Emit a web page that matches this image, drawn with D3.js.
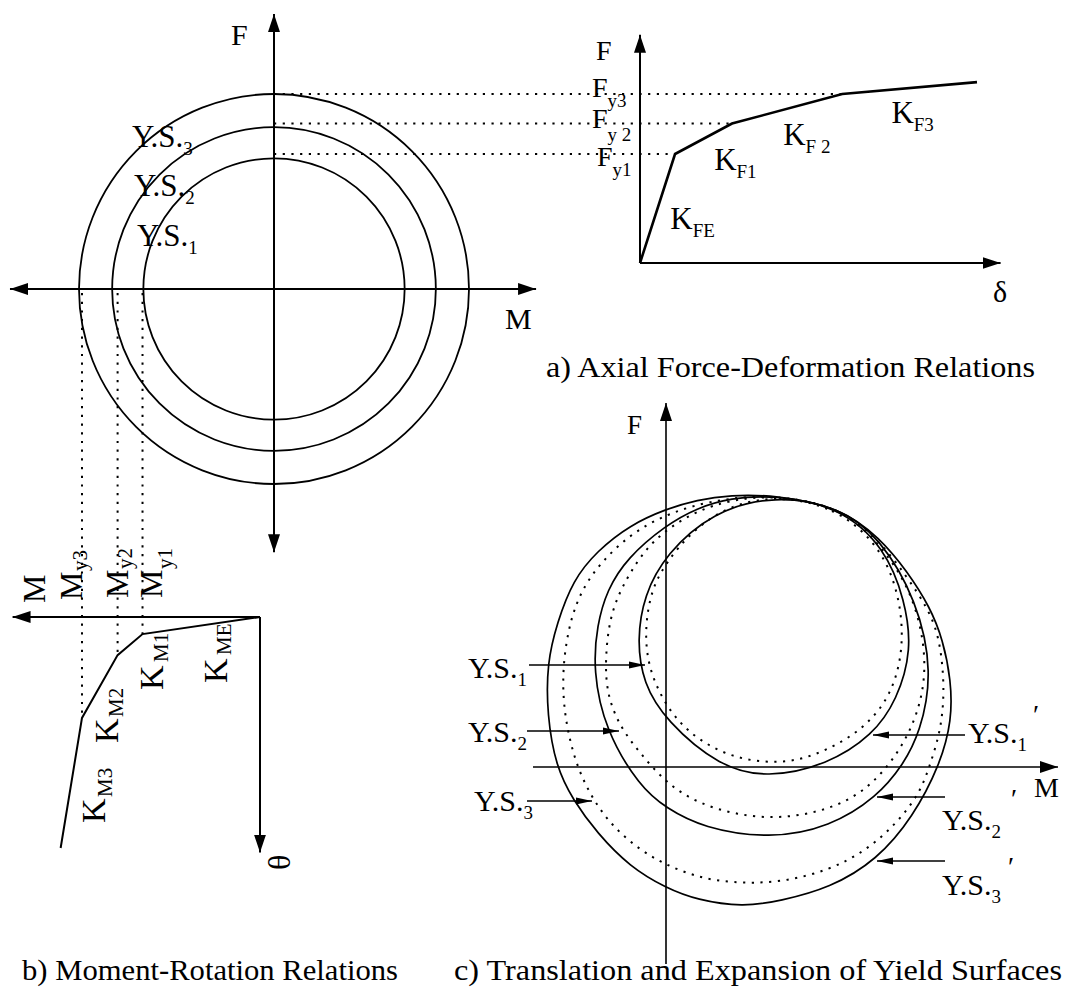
<!DOCTYPE html>
<html>
<head>
<meta charset="utf-8">
<script src="https://cdn.jsdelivr.net/npm/d3@7"></script>
<style>
  body { margin: 0; background: #fff; }
  svg text { font-family: "Liberation Serif", "Times New Roman", serif; fill: #000; }
</style>
</head>
<body>
<svg id="chart" width="1065" height="994"></svg>
<script>
// yield levels, normalised by the third yield level
const yieldRadius = [0.67, 0.83, 1.0]      // Y.S.1 .. Y.S.3 in the F-M plane
const forceYield = [0.645, 0.825, 1.0]     // F_y1 .. F_y3
const momentYield = [0.66, 0.80, 1.0]      // M_y1 .. M_y3

// a) axial force-deformation, [delta, F]
const axialCurve = [[0, 0], [0.104, 0.645], [0.273, 0.825], [0.6, 1.0], [1.0, 1.07]]
const axialLabels = [
  {k: 'K', s: 'FE', d: 0.09, f: 0.2},
  {k: 'K', s: 'F1', d: 0.22, f: 0.55},
  {k: 'K', s: 'F 2', d: 0.425, f: 0.7},
  {k: 'K', s: 'F3', d: 0.746, f: 0.83}
]

// b) moment-rotation, [theta, M]
const momentCurve = [[0, 0], [0.074, 0.66], [0.165, 0.80], [0.437, 1.0], [1.0, 1.12]]

// c) yield surfaces [M, F]; original (dotted) and translated/expanded (solid)
const ysOld1 = [[1.09,2.72],[1.69,2.60],[2.11,2.24],[2.31,1.82],[2.39,1.27],[2.27,0.72],[1.94,0.34],[1.47,0.10],[1.11,0.03],[0.64,0.09],[0.21,0.34],[-0.04,0.67],[-0.19,1.04],[-0.21,1.42],[-0.14,1.79],[0.00,2.04],[0.24,2.34],[0.59,2.60]]
const ysOld2 = [[1.09,2.72],[1.74,2.60],[2.11,2.26],[2.47,1.77],[2.64,1.00],[2.47,0.34],[2.07,-0.20],[1.64,-0.43],[1.14,-0.52],[0.71,-0.48],[0.31,-0.36],[0.00,-0.16],[-0.26,0.14],[-0.46,0.40],[-0.59,0.72],[-0.61,1.07],[-0.56,1.54],[-0.39,1.90],[-0.19,2.20],[0.04,2.40],[0.31,2.56],[0.64,2.67]]
const ysOld3 = [[1.09,2.72],[1.74,2.60],[2.14,2.26],[2.41,1.90],[2.61,1.60],[2.72,1.34],[2.77,1.00],[2.78,0.67],[2.74,0.34],[2.64,0.02],[2.54,-0.26],[2.31,-0.56],[2.01,-0.83],[1.64,-1.03],[1.14,-1.16],[0.64,-1.16],[0.31,-1.10],[0.00,-0.98],[-0.26,-0.83],[-0.53,-0.60],[-0.73,-0.33],[-0.89,0.00],[-0.98,0.34],[-1.03,0.67],[-1.03,1.04],[-0.96,1.47],[-0.83,1.80],[-0.63,2.07],[-0.36,2.32],[-0.09,2.48],[0.24,2.61],[0.64,2.69]]
const ysNew1 = [[1.09,2.72],[1.74,2.60],[2.19,2.19],[2.39,1.67],[2.46,1.17],[2.31,0.67],[2.07,0.32],[1.61,0.02],[1.01,-0.11],[0.54,0.00],[0.00,0.46],[-0.23,0.84],[-0.29,1.27],[-0.22,1.72],[0.00,2.13],[0.46,2.55]]
const ysNew2 = [[1.09,2.72],[1.74,2.60],[2.14,2.29],[2.51,1.67],[2.67,0.94],[2.54,0.34],[2.37,0.02],[2.11,-0.30],[1.64,-0.60],[1.04,-0.72],[0.37,-0.61],[0.00,-0.41],[-0.26,-0.20],[-0.61,0.37],[-0.73,0.97],[-0.69,1.42],[-0.59,1.77],[-0.39,2.09],[0.00,2.42],[0.31,2.59],[0.64,2.69]]
const ysNew3 = [[1.09,2.72],[1.74,2.60],[2.14,2.29],[2.41,1.96],[2.64,1.60],[2.77,1.27],[2.85,0.87],[2.86,0.47],[2.74,0.02],[2.47,-0.50],[2.11,-0.93],[1.64,-1.21],[1.14,-1.34],[0.77,-1.40],[0.31,-1.33],[0.00,-1.21],[-0.36,-1.00],[-0.69,-0.66],[-0.93,-0.33],[-1.10,0.00],[-1.19,0.52],[-1.19,1.04],[-1.09,1.44],[-0.93,1.87],[-0.69,2.16],[-0.36,2.42],[0.00,2.58],[0.31,2.67],[0.64,2.72]]
// label arrows in c): [from M, to M, at F]
const leftArrows = [[-1.37, -0.21, 1.02], [-1.39, -0.47, 0.36], [-1.39, -0.74, -0.34]]
const rightArrows = [[2.99, 2.07, 0.32], [2.79, 2.11, -0.30], [2.79, 2.11, -0.94]]

const svg = d3.select('#chart')
const defs = svg.append('defs')
defs.append('marker').attr('id', 'head')
  .attr('viewBox', '0 -6 18 12').attr('refX', 18).attr('refY', 0)
  .attr('markerWidth', 18).attr('markerHeight', 12)
  .attr('markerUnits', 'userSpaceOnUse').attr('orient', 'auto-start-reverse')
  .append('path').attr('d', 'M0,-6L18,0L0,6Z')
defs.append('marker').attr('id', 'headSmall')
  .attr('viewBox', '0 -4 16 8').attr('refX', 16).attr('refY', 0)
  .attr('markerWidth', 16).attr('markerHeight', 8)
  .attr('markerUnits', 'userSpaceOnUse').attr('orient', 'auto')
  .append('path').attr('d', 'M0,-3.5L16,0L0,3.5Z')

const dots = '2.2,6.5'

// text with an optional subscript
function label(g, x, y, main, sub, size, subSize, subDy, rot) {
  const t = g.append('text').attr('font-size', size)
  if (rot) t.attr('transform', `translate(${x},${y}) rotate(${rot})`)
  else t.attr('x', x).attr('y', y)
  t.append('tspan').text(main)
  if (sub) t.append('tspan').attr('font-size', subSize).attr('dy', subDy).text(sub)
  return t
}

// ---------- yield surfaces in F-M plane ----------
const g1 = svg.append('g')
const xP = d3.scaleLinear().domain([-1, 1]).range([79, 469])
const yP = d3.scaleLinear().domain([-1, 1]).range([484, 94])

g1.append('line')
  .attr('x1', xP(-1.354)).attr('x2', xP(1.344)).attr('y1', yP(0)).attr('y2', yP(0))
  .attr('stroke', '#000').attr('stroke-width', 2)
  .attr('marker-start', 'url(#head)').attr('marker-end', 'url(#head)')
g1.append('line')
  .attr('x1', xP(0)).attr('x2', xP(0)).attr('y1', yP(-1.35)).attr('y2', yP(1.41))
  .attr('stroke', '#000').attr('stroke-width', 2)
  .attr('marker-start', 'url(#head)').attr('marker-end', 'url(#head)')

g1.selectAll('circle').data(yieldRadius).join('circle')
  .attr('cx', xP(0)).attr('cy', yP(0))
  .attr('r', d => xP(d) - xP(0))
  .attr('fill', 'none').attr('stroke', '#000').attr('stroke-width', 1.8)

label(g1, 231, 45, 'F', null, 30)
label(g1, 505, 329, 'M', null, 30)
const ysPos = [[137, 246], [134, 196], [132, 147]]
ysPos.forEach((p, i) => label(g1, p[0], p[1], 'Y.S.', String(i + 1), 31, 19, 8))

// ---------- a) axial force-deformation ----------
const ga = svg.append('g')
const xA = d3.scaleLinear().domain([0, 1]).range([640, 977])
const yA = d3.scaleLinear().domain([0, 1]).range([263, 94])

ga.append('line')
  .attr('x1', xA(0)).attr('x2', xA(1.07)).attr('y1', yA(0)).attr('y2', yA(0))
  .attr('stroke', '#000').attr('stroke-width', 2).attr('marker-end', 'url(#head)')
ga.append('line')
  .attr('x1', xA(0)).attr('x2', xA(0)).attr('y1', yA(0)).attr('y2', yA(1.35))
  .attr('stroke', '#000').attr('stroke-width', 2).attr('marker-end', 'url(#head)')

// dotted projections from the yield surfaces
ga.selectAll('line.proj').data(forceYield).join('line').attr('class', 'proj')
  .attr('x1', xP(0)).attr('x2', (d, i) => xA(axialCurve[i + 1][0]))
  .attr('y1', d => yA(d)).attr('y2', d => yA(d))
  .attr('stroke', '#000').attr('stroke-width', 2).attr('stroke-dasharray', dots)

ga.append('path').datum(axialCurve)
  .attr('d', d3.line().x(d => xA(d[0])).y(d => yA(d[1])))
  .attr('fill', 'none').attr('stroke', '#000').attr('stroke-width', 2.6)

label(ga, 596, 60, 'F', null, 28)
label(ga, 597, 166, 'F', 'y1', 28, 19, 10)
label(ga, 592, 128, 'F', 'y 2', 28, 19, 13)
label(ga, 592, 97, 'F', 'y3', 28, 19, 10)
axialLabels.forEach(d => label(ga, xA(d.d), yA(d.f), d.k, d.s, 31, 19, 8))
label(ga, 993, 302, 'δ', null, 30)
ga.append('text').attr('x', 546).attr('y', 377).attr('font-size', 30)
  .attr('textLength', 489).attr('lengthAdjust', 'spacingAndGlyphs')
  .text('a) Axial Force-Deformation Relations')

// ---------- b) moment-rotation ----------
const gb = svg.append('g')
const xB = d3.scaleLinear().domain([0, 1]).range([260, 82])
const yB = d3.scaleLinear().domain([0, 1]).range([617, 848])

gb.append('line')
  .attr('x1', xB(0)).attr('x2', xB(1.39)).attr('y1', yB(0)).attr('y2', yB(0))
  .attr('stroke', '#000').attr('stroke-width', 2).attr('marker-end', 'url(#head)')
gb.append('line')
  .attr('x1', xB(0)).attr('x2', xB(0)).attr('y1', yB(0)).attr('y2', yB(1.02))
  .attr('stroke', '#000').attr('stroke-width', 2).attr('marker-end', 'url(#head)')

gb.selectAll('line.proj').data(momentYield).join('line').attr('class', 'proj')
  .attr('x1', d => xB(d)).attr('x2', d => xB(d))
  .attr('y1', yP(0) + 4).attr('y2', (d, i) => yB(momentCurve[i + 1][0]))
  .attr('stroke', '#000').attr('stroke-width', 2).attr('stroke-dasharray', dots)

gb.append('path').datum(momentCurve)
  .attr('d', d3.line().x(d => xB(d[1])).y(d => yB(d[0])))
  .attr('fill', 'none').attr('stroke', '#000').attr('stroke-width', 2)

label(gb, 45, 603, 'M', null, 32, 0, 0, -90)
label(gb, 82, 600, 'M', null, 32, 0, 0, -90)
label(gb, 87, 571, 'y3', null, 21, 0, 0, -90)
label(gb, 128, 598, 'M', null, 32, 0, 0, -90)
label(gb, 132, 569, 'y2', null, 21, 0, 0, -90)
label(gb, 162, 598, 'M', null, 32, 0, 0, -90)
label(gb, 172, 569, 'y1', null, 21, 0, 0, -90)
label(gb, 227, 683, 'K', null, 34, 0, 0, -90)
label(gb, 231, 655, 'ME', null, 21, 0, 0, -90)
label(gb, 163, 690, 'K', null, 34, 0, 0, -90)
label(gb, 168, 662, 'M1', null, 21, 0, 0, -90)
label(gb, 118, 743, 'K', null, 34, 0, 0, -90)
label(gb, 123, 717, 'M2', null, 21, 0, 0, -90)
label(gb, 105, 823, 'K', null, 34, 0, 0, -90)
label(gb, 112, 797, 'M3', null, 21, 0, 0, -90)
label(gb, 290, 870, 'θ', null, 32, 0, 0, -90)
gb.append('text').attr('x', 22).attr('y', 980).attr('font-size', 30)
  .attr('textLength', 376).attr('lengthAdjust', 'spacingAndGlyphs')
  .text('b) Moment-Rotation Relations')

// ---------- c) translation and expansion ----------
const gc = svg.append('g')
const xC = d3.scaleLinear().domain([0, 1]).range([666, 766])
const yC = d3.scaleLinear().domain([0, 1]).range([767, 667])
const closed = d3.line().x(d => xC(d[0])).y(d => yC(d[1])).curve(d3.curveBasisClosed)

gc.append('line')
  .attr('x1', xC(-1.33)).attr('x2', xC(3.92)).attr('y1', yC(0)).attr('y2', yC(0))
  .attr('stroke', '#000').attr('stroke-width', 1.6).attr('marker-end', 'url(#head)')
gc.append('line')
  .attr('x1', xC(0)).attr('x2', xC(0)).attr('y1', yC(-1.97)).attr('y2', yC(3.64))
  .attr('stroke', '#000').attr('stroke-width', 1.6).attr('marker-end', 'url(#head)')

gc.selectAll('path.old').data([ysOld1, ysOld2, ysOld3]).join('path').attr('class', 'old')
  .attr('d', closed).attr('fill', 'none').attr('stroke', '#000')
  .attr('stroke-width', 2).attr('stroke-dasharray', dots)
gc.selectAll('path.new').data([ysNew1, ysNew2, ysNew3]).join('path').attr('class', 'new')
  .attr('d', closed).attr('fill', 'none').attr('stroke', '#000').attr('stroke-width', 1.7)

gc.selectAll('line.la').data(leftArrows.concat(rightArrows)).join('line').attr('class', 'la')
  .attr('x1', d => xC(d[0])).attr('x2', d => xC(d[1]))
  .attr('y1', d => yC(d[2])).attr('y2', d => yC(d[2]))
  .attr('stroke', '#000').attr('stroke-width', 1.5).attr('marker-end', 'url(#headSmall)')

const leftOff = [[-61, 13], [-59, 11], [-53, 10]]
leftArrows.forEach((a, i) => label(gc, xC(a[0]) + leftOff[i][0], yC(a[2]) + leftOff[i][1], 'Y.S.', String(i + 1), 30, 19, 8))
const rightOff = [[3, 8, 68, -23], [-3, 33, 66, -1], [-3, 34, 63, 3]]
rightArrows.forEach((a, i) => {
  const o = rightOff[i]
  label(gc, xC(a[0]) + o[0], yC(a[2]) + o[1], 'Y.S.', String(i + 1), 30, 19, 8)
  gc.append('text').attr('x', xC(a[0]) + o[2]).attr('y', yC(a[2]) + o[3] + 12)
    .attr('font-size', 28).text('′')
})

label(gc, 627, 434, 'F', null, 27)
label(gc, 1034, 797, 'M', null, 28)
gc.append('text').attr('x', 454).attr('y', 980).attr('font-size', 30)
  .attr('textLength', 608).attr('lengthAdjust', 'spacingAndGlyphs')
  .text('c) Translation and Expansion of Yield Surfaces')
</script>
</body>
</html>
